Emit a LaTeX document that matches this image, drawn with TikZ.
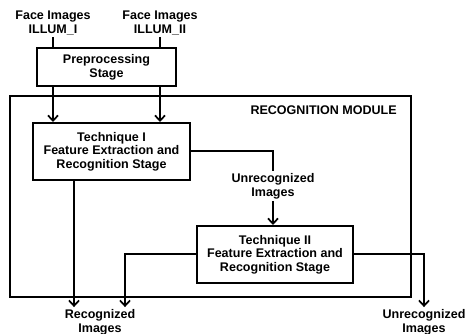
\documentclass[tikz,border=0pt]{standalone}
\usepackage{fontspec}
\setmainfont{Liberation Sans}
\usetikzlibrary{arrows.meta}
\begin{document}
\begin{tikzpicture}[x=0.75pt,y=-0.75pt,
  every node/.style={font=\fontsize{9.4}{10.2}\selectfont\bfseries, align=center},
  stagebox/.style={draw, line width=1.5pt, inner sep=0pt},
  lbl/.style={inner sep=1.5pt},
  link/.style={line width=1.5pt},
  arr/.style={link, -{Straight Barb[length=4pt,width=7.5pt,line width=1.3pt]}}]
  \useasboundingbox (0,0) rectangle (465,334);

  % recognition module frame
  \node[stagebox, minimum width=300.75pt, minimum height=150.75pt] (module) at (210.5,196.5) {};
  \node[lbl, anchor=east] (modtitle) at (399,110) {RECOGNITION MODULE};

  % inputs
  \node[lbl] (face1) at (53,23) {Face Images\\ILLUM\_I};
  \node[lbl] (face2) at (160,23) {Face Images\\ILLUM\_II};

  % stages
  \node[stagebox, minimum width=104.25pt, minimum height=28.5pt] (pre) at (106.5,67) {Preprocessing\\Stage};
  \node[stagebox, minimum width=117.75pt, minimum height=42.75pt] (t1) at (111.5,151.5)
    {Technique I\\Feature Extraction and\\Recognition Stage};
  \node[stagebox, minimum width=117pt, minimum height=42.75pt] (t2) at (275,254.5)
    {Technique II\\Feature Extraction and\\Recognition Stage};

  % intermediate and output labels
  \node[lbl] (unrec1) at (273,186) {Unrecognized\\Images};
  \node[lbl] (rec) at (100,322) {Recognized\\Images};
  \node[lbl] (unrec2) at (424,322) {Unrecognized\\Images};

  \coordinate (xa) at (74,0);
  \coordinate (xb) at (125,0);

  % connectors
  \draw[link] (face1.south) -- (face1.south |- pre.north);
  \draw[link] (face2.south) -- (face2.south |- pre.north);
  \draw[arr] (face1.south |- pre.south) -- (face1.south |- t1.north);
  \draw[arr] (face2.south |- pre.south) -- (face2.south |- t1.north);
  \draw[link] (t1.east) -| (unrec1.north);
  \draw[arr] (unrec1.south) -- (unrec1.south |- t2.north);
  \draw[arr] (xa |- t1.south) -- (xa |- rec.north);
  \draw[arr] (t2.west) -| (xb |- rec.north);
  \draw[arr] (t2.east) -| (unrec2.north);
\end{tikzpicture}
\end{document}
